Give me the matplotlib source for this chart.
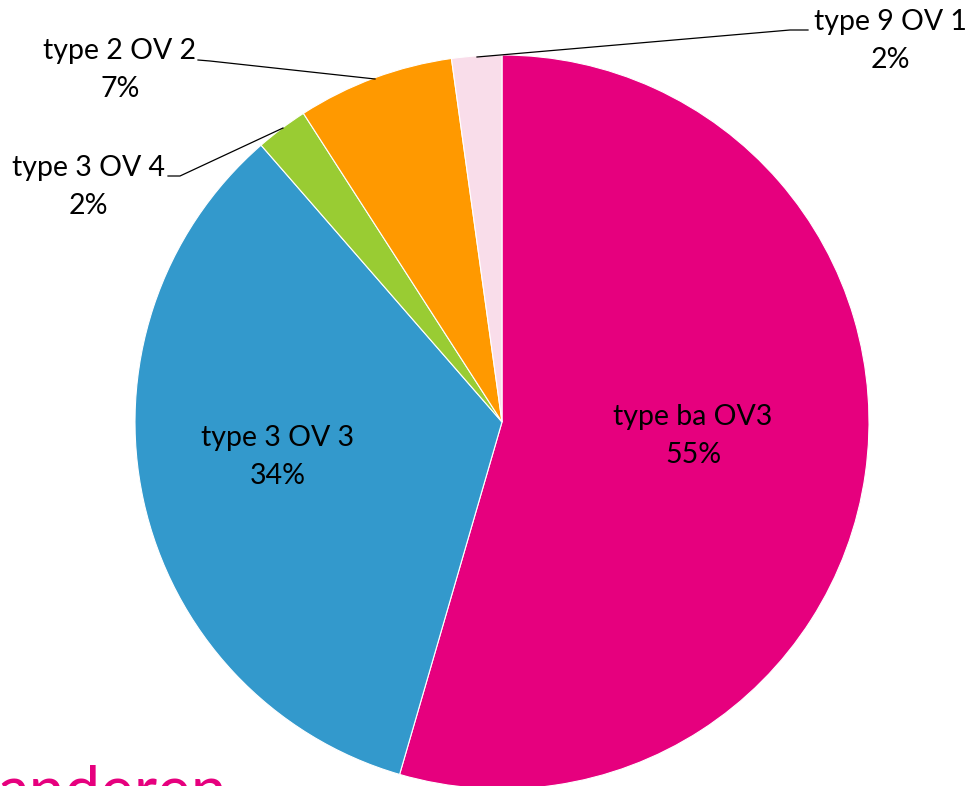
import matplotlib
matplotlib.use("Agg")
import matplotlib.pyplot as plt

labels = ["type ba OV3", "type 3 OV 3", "type 3 OV 4", "type 2 OV 2", "type 9 OV 1"]
values = [54.5, 34.1, 2.3, 6.9, 2.2]
pct_labels = ["55%", "34%", "2%", "7%", "2%"]
colors = ["#E6007E", "#3399CC", "#99CC33", "#FF9900", "#F9DDEA"]

W, H = 965, 786
fig = plt.figure(figsize=(W / 100, H / 100), dpi=100)
cx, cy, R = 502, 422, 367

def d(px, py):
    return ((px - cx) / R, (cy - py) / R)

ax = fig.add_axes([(cx - R) / W, (H - cy - R) / H, 2 * R / W, 2 * R / H])
ax.axis("off")

ax.pie(values, colors=colors, startangle=90, counterclock=False, radius=1,
       wedgeprops=dict(edgecolor="white", linewidth=0.8))
ax.set_xlim(-1, 1)
ax.set_ylim(-1, 1)

font = "Lato"
fs = 20.5
ls = 1.6

# inside labels
for i, (px, py) in [(0, (693, 436)), (1, (278, 457))]:
    x, y = d(px, py)
    ax.text(x, y, f"{labels[i]}\n{pct_labels[i]}", ha="center", va="center",
            fontsize=fs, family=font, color="black", linespacing=ls, clip_on=False)

# outside labels with leader lines
outside = {
    4: dict(text=(890, 41), line=[(477, 57), (790, 30), (808, 30)]),
    3: dict(text=(120, 70), line=[(198, 60), (210, 61), (375, 79)]),
    2: dict(text=(88, 187), line=[(168, 176), (180, 176), (283, 128)]),
}
for i, o in outside.items():
    x, y = d(*o["text"])
    ax.text(x, y, f"{labels[i]}\n{pct_labels[i]}", ha="center", va="center",
            fontsize=fs, family=font, color="black", linespacing=ls, clip_on=False)
    pts = [d(px, py) for px, py in o["line"]]
    ax.plot([p[0] for p in pts], [p[1] for p in pts], color="black", lw=0.9,
            clip_on=False)

# cut-off word at bottom
fig.text(-2 / W, (H - 812) / H, "anderen", ha="left", va="baseline", fontsize=46,
         family=font, color="#E6007E")

fig.savefig("out.png", dpi=100, facecolor="white")
